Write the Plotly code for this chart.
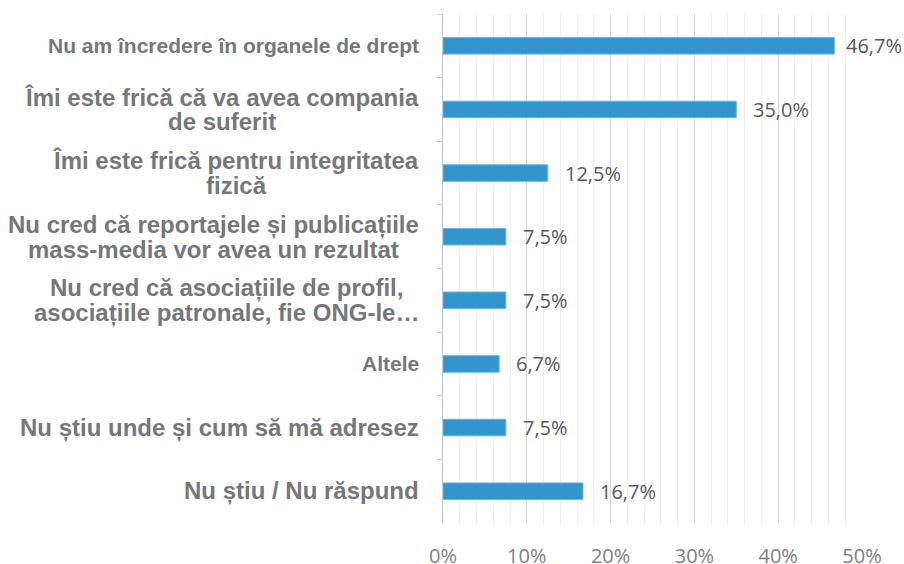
import plotly.graph_objects as go

categories = [
    "Nu am încredere în organele de drept",
    "Îmi este frică că va avea compania<br>de suferit",
    "Îmi este frică pentru integritatea<br>fizică",
    "Nu cred că reportajele și publicațiile<br>mass-media vor avea un rezultat",
    "Nu cred că asociațiile de profil,<br>asociațiile patronale, fie ONG-le…",
    "Altele",
    "Nu știu unde și cum să mă adresez",
    "Nu știu / Nu răspund",
]
values = [46.7, 35.0, 12.5, 7.5, 7.5, 6.7, 7.5, 16.7]
label_sizes = [21, 24, 24, 24, 24, 21, 24, 24]
x_ticks = [0, 10, 20, 30, 40, 50]

LABEL_COLOR = "#76777a"
BAR_COLOR = "#3395cd"
LABEL_FONT = "Liberation Sans, Arial, sans-serif"
NUM_FONT = "Open Sans, sans-serif"

fig = go.Figure()
fig.add_trace(go.Bar(
    x=values, y=categories, orientation="h",
    marker=dict(color=BAR_COLOR, line=dict(color="#6cb4de", width=1)),
    width=0.26, hoverinfo="skip",
))

annotations = []
for cat, size in zip(categories, label_sizes):
    lines = cat.split("<br>")
    if len(lines) == 1:
        annotations.append(dict(
            x=0, xref="paper", y=cat, yref="y", text=f"<b>{cat}</b>",
            xanchor="right", yanchor="middle", xshift=-22, showarrow=False,
            align="center", font=dict(family=LABEL_FONT, size=size, color=LABEL_COLOR),
        ))
    else:
        gap = (1.3 * size - 25) / 2
        for i in range(len(lines)):
            parts = []
            for j, ln in enumerate(lines):
                if j == i:
                    parts.append(f"<b>{ln}</b>")
                else:
                    parts.append(f"<span style='color:rgba(0,0,0,0)'><b>{ln}</b></span>")
            annotations.append(dict(
                x=0, xref="paper", y=cat, yref="y", text="<br>".join(parts),
                xanchor="right", yanchor="middle", xshift=-22,
                yshift=(-gap if i == 0 else gap), showarrow=False,
                align="center", font=dict(family=LABEL_FONT, size=size, color=LABEL_COLOR),
            ))

for cat, v in zip(categories, values):
    annotations.append(dict(
        x=v, xref="x", y=cat, yref="y",
        text=f"{v:.1f}".replace(".", ",") + "%",
        xanchor="left", yanchor="middle",
        xshift=(10 if v > 45 else 15), showarrow=False,
        font=dict(family=NUM_FONT, size=20, color="#595959"),
    ))

fig.update_layout(
    width=904, height=564,
    margin=dict(l=443, r=42, t=14, b=41),
    paper_bgcolor="white", plot_bgcolor="white",
    showlegend=False,
    annotations=annotations,
    xaxis=dict(
        range=[0, 50], tickvals=x_ticks,
        ticktext=[f"{t}%" for t in x_ticks],
        showgrid=True, gridcolor="#d9d9d9", gridwidth=1,
        minor=dict(dtick=2, showgrid=True, gridcolor="#efefef", gridwidth=1),
        zeroline=False, showline=False, ticks="",
        tickfont=dict(family=NUM_FONT, size=20, color="#808080"),
        ticklabelstandoff=19, automargin=False, fixedrange=True,
    ),
    yaxis=dict(
        type="category", autorange="reversed",
        showticklabels=False, showgrid=False, zeroline=False,
        showline=True, linecolor="#c8c8c8", linewidth=1,
        ticks="outside", ticklen=5, tickcolor="#d0d0d0", tickson="boundaries",
        automargin=False, fixedrange=True,
    ),
)

fig.write_html(
    "out.html",
    config={"displayModeBar": False},
    post_script="document.body.style.margin='0';document.body.style.overflow='hidden';",
)
